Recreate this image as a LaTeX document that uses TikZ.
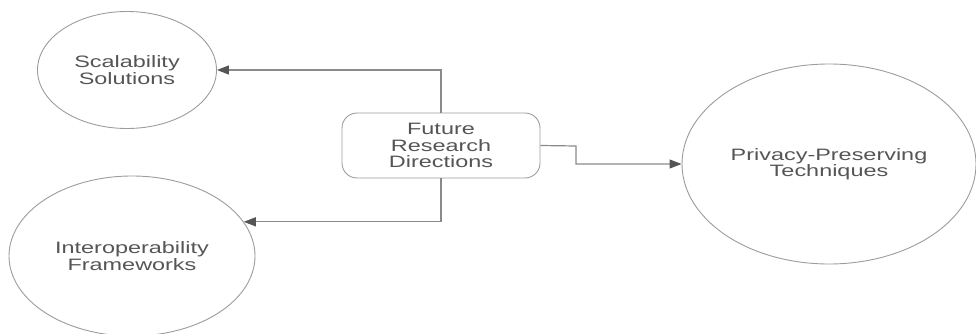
\documentclass[tikz,border=0pt]{standalone}
\usepackage{fontspec}
\setmainfont[FakeStretch=1.42]{Liberation Sans}
\usetikzlibrary{shapes.geometric,arrows.meta}
\definecolor{txtgray}{HTML}{555555}
\definecolor{linegray}{HTML}{8A8A8A}
\definecolor{tipgray}{HTML}{555555}
\begin{document}
\begin{tikzpicture}[x=1pt,y=-1pt,
  lbl/.style={font=\fontsize{16.5}{16.5}\selectfont, text=txtgray, align=center},
  bubble/.style={ellipse, draw=linegray!85, line width=0.9pt, inner sep=0pt, lbl},
  hub/.style={rectangle, rounded corners=15pt, draw=linegray!85, line width=0.9pt, inner sep=0pt, lbl},
  link/.style={draw=linegray, line width=1.2pt, -{Triangle[length=12pt,width=9pt,fill=tipgray,color=tipgray]}}]
  \useasboundingbox (0,0) rectangle (976,334);
  \node[hub, minimum width=198pt, minimum height=65pt] (fut) at (441,145.5) {Future\\Research\\Directions};
  \node[bubble, minimum width=179pt, minimum height=117pt] (scal) at (127,70) {Scalability\\Solutions};
  \node[bubble, minimum width=246pt, minimum height=160pt] (interop) at (132,256) {Interoperability\\Frameworks};
  \node[bubble, minimum width=294pt, minimum height=200pt] (priv) at (829,164) {Privacy-Preserving\\Techniques};
  \coordinate (bend) at (576,146);
  \draw[link] (fut.north) |- (scal.east);
  \draw[link] (fut.south) |- (interop.17.5);
  \draw[link] (fut.east) -- (bend) |- (priv.west);
\end{tikzpicture}
\end{document}
